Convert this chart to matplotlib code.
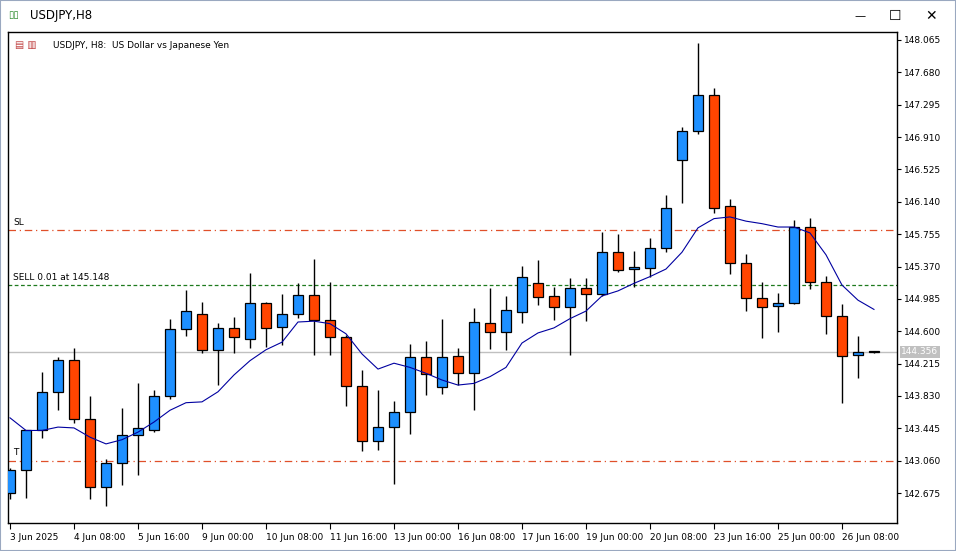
import matplotlib
matplotlib.use("Agg")
import matplotlib.pyplot as plt
from matplotlib.patches import Rectangle

opens  = [142.67,142.95,143.42,143.88,144.26,143.56,142.75,143.03,143.36,143.42,143.83,144.63,144.80,144.38,144.64,144.51,144.94,144.65,144.80,145.03,144.73,144.53,143.95,143.29,143.46,143.64,144.29,143.94,144.30,144.10,144.70,144.59,144.83,145.17,145.02,144.89,145.11,145.04,145.54,145.34,145.35,145.59,146.64,146.98,147.41,146.09,145.41,145.00,144.90,144.94,145.84,145.19,144.78,144.32,144.35]
highs  = [142.97,143.42,144.11,144.29,144.40,143.83,143.08,143.69,143.98,143.90,144.75,145.09,144.95,144.70,144.77,145.29,144.95,145.04,145.17,145.46,145.19,144.55,144.14,143.90,143.77,144.45,144.48,144.75,144.40,144.88,145.11,145.02,145.38,145.45,145.13,145.23,145.23,145.78,145.76,145.55,145.71,146.22,147.03,148.03,147.49,146.17,145.52,145.19,145.05,145.92,145.95,145.26,144.92,144.54,144.37]
lows   = [142.60,142.62,143.33,143.66,143.51,142.60,142.52,142.77,142.89,143.40,143.80,144.54,144.34,143.96,144.34,144.40,144.41,144.44,144.76,144.32,144.32,143.71,143.17,143.19,142.78,143.38,143.84,143.85,143.96,143.66,144.39,144.38,144.70,144.91,144.73,144.32,144.72,145.02,145.30,145.13,145.25,145.54,146.13,146.95,146.01,145.28,144.84,144.52,144.59,144.92,145.10,144.57,143.75,144.04,144.34]
closes = [142.95,143.42,143.88,144.26,143.56,142.75,143.03,143.36,143.45,143.83,144.63,144.84,144.38,144.64,144.53,144.94,144.64,144.80,145.03,144.73,144.53,143.95,143.29,143.46,143.64,144.29,144.09,144.29,144.10,144.71,144.59,144.85,145.25,145.01,144.89,145.11,145.04,145.54,145.33,145.35,145.59,146.07,146.98,147.41,146.07,145.41,145.00,144.89,144.94,145.84,145.19,144.78,144.30,144.35,144.356]
ma = [143.57,143.42,143.42,143.46,143.45,143.34,143.26,143.31,143.40,143.52,143.66,143.75,143.76,143.88,144.08,144.25,144.38,144.47,144.71,144.72,144.69,144.57,144.33,144.15,144.22,144.17,144.10,144.02,143.96,143.98,144.06,144.17,144.46,144.58,144.64,144.75,144.84,145.02,145.08,145.17,145.25,145.34,145.54,145.83,145.94,145.96,145.91,145.88,145.84,145.84,145.77,145.51,145.15,144.97,144.86]
date_labels = ["3 Jun 2025","4 Jun 08:00","5 Jun 16:00","9 Jun 00:00","10 Jun 08:00","11 Jun 16:00","13 Jun 00:00","16 Jun 08:00","17 Jun 16:00","19 Jun 00:00","20 Jun 08:00","23 Jun 16:00","25 Jun 00:00","26 Jun 08:00"]
price_ticks = [148.065,147.680,147.295,146.910,146.525,146.140,145.755,145.370,144.985,144.600,144.215,143.830,143.445,143.060,142.675]
sl_level, sell_level, tp_level, bid = 145.80, 145.148, 143.06, 144.356

W, H = 956, 551
fig = plt.figure(figsize=(W/100, H/100), dpi=100)
fig.patch.set_facecolor("white")
# window chrome
fig.text(30/W, 1-15/H, "USDJPY,H8", fontsize=8.5, va="center", ha="left")
fig.text(8/W, 1-15/H, "▯▯", fontsize=7, va="center", color="#2a8a2a")
fig.text(860/W, 1-16/H, "—", fontsize=8, va="center", ha="center")
fig.text(895/W, 1-16/H, "☐", fontsize=10, va="center", ha="center")
fig.text(931/W, 1-16/H, "✕", fontsize=10, va="center", ha="center")
fig.add_artist(Rectangle((0, 0), 1, 1, transform=fig.transFigure, fill=False, ec="#9aa8c0", lw=1.5))

ax = fig.add_axes([8/W, 1-523/H, 889/W, 491/H])
n = len(opens)
ax.set_xlim(-0.125, 55.44)
ax.set_ylim(142.319, 148.160)
bw = 0.62
for i in range(n):
    o, h, l, c = opens[i], highs[i], lows[i], closes[i]
    up = c >= o
    col = "#1E90FF" if up else "#FF4500"
    ax.vlines(i, l, h, color="black", lw=1, zorder=2)
    lo, hi = min(o, c), max(o, c)
    ax.add_patch(Rectangle((i-bw/2, lo), bw, max(hi-lo, 0.02), fc=col, ec="black", lw=0.9, zorder=3))
ax.plot(range(n), ma, color="#0000A0", lw=0.8, zorder=4)

ax.axhline(sl_level, color="#E0502A", lw=0.9, ls=(0, (6, 3, 1, 3)), zorder=1)
ax.axhline(sell_level, color="#1E7A1E", lw=0.9, ls=(0, (3, 2)), zorder=1)
ax.axhline(tp_level, color="#E0502A", lw=0.9, ls=(0, (6, 3, 1, 3)), zorder=1)
ax.axhline(bid, color="#C0C0C0", lw=1, zorder=1)
ax.text(0.2, sl_level+0.04, "SL", fontsize=6.5, va="bottom")
ax.text(0.2, sell_level+0.04, "SELL 0.01 at 145.148", fontsize=6.5, va="bottom")
ax.text(0.2, tp_level+0.04, "T", fontsize=6.5, va="bottom")
ax.text(2.7, 148.0, "USDJPY, H8:  US Dollar vs Japanese Yen", fontsize=6.5, va="center")
ax.text(0.3, 148.0, "▤ ▥", fontsize=7, va="center", color="#C04040")

ax.yaxis.tick_right()
ax.set_yticks(price_ticks)
ax.set_yticklabels([f"{p:.3f}" for p in price_ticks], fontsize=6.5)
ax.tick_params(axis="y", length=3, pad=2)
ax.set_xticks(range(0, n, 4))
ax.set_xticklabels(date_labels, fontsize=6.5, ha="left")
ax.tick_params(axis="x", length=4, pad=3)
for s in ax.spines.values():
    s.set_linewidth(1)
ax.text(1.005, bid, f"{bid:.3f}", transform=ax.get_yaxis_transform(), fontsize=6.5, color="white",
        va="center", ha="left", bbox=dict(fc="#C0C0C0", ec="none", pad=1.2))
fig.savefig("out.png", dpi=100)
